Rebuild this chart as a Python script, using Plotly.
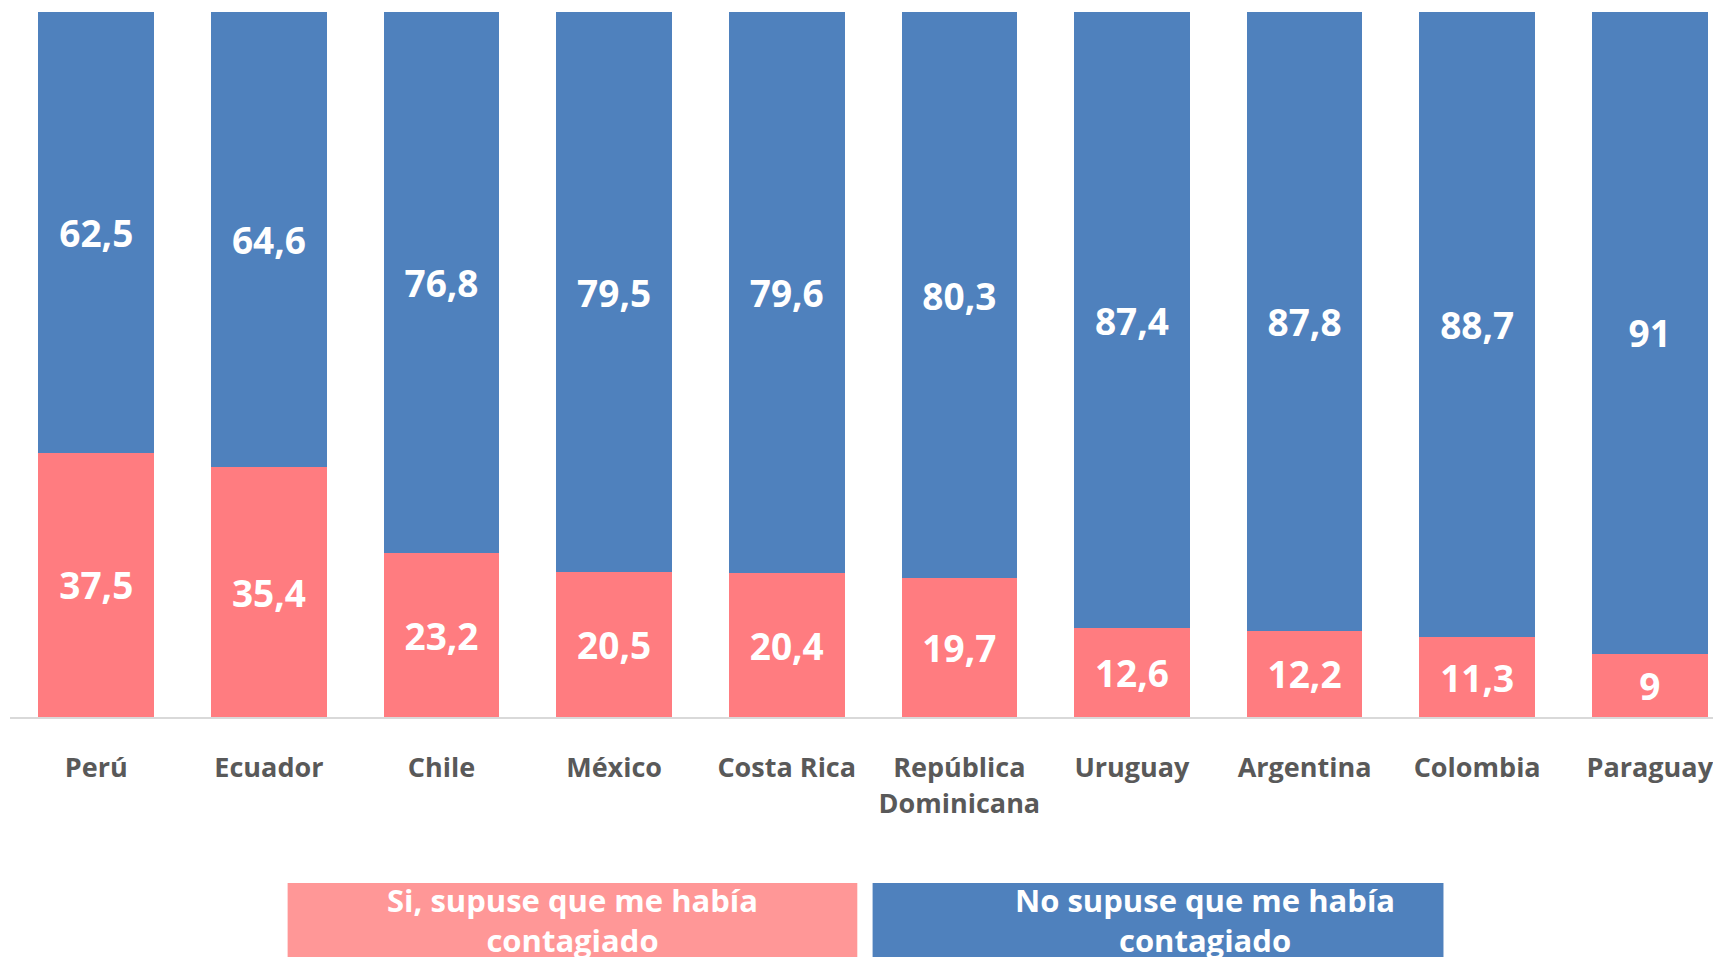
import plotly.graph_objects as go

paises = ["Perú", "Ecuador", "Chile", "México", "Costa Rica", "República<br>Dominicana",
          "Uruguay", "Argentina", "Colombia", "Paraguay"]
si_supuse = [37.5, 35.4, 23.2, 20.5, 20.4, 19.7, 12.6, 12.2, 11.3, 9]
no_supuse = [62.5, 64.6, 76.8, 79.5, 79.6, 80.3, 87.4, 87.8, 88.7, 91]
nombres = ["Si, supuse que me había<br>contagiado", "No supuse que me había<br>contagiado"]

ROJO = "#FF7C80"
ROJO_LEY = "#FF9797"
AZUL = "#4F81BD"


def etiqueta(v):
    return "{:g}".format(v).replace(".", ",")


fig = go.Figure()
fig.add_trace(go.Bar(x=paises, y=si_supuse, name=nombres[0], marker_color=ROJO,
                     text=[etiqueta(v) for v in si_supuse]))
fig.add_trace(go.Bar(x=paises, y=no_supuse, name=nombres[1], marker_color=AZUL,
                     text=[etiqueta(v) for v in no_supuse]))
fig.update_traces(textposition="inside", insidetextanchor="middle", constraintext="none",
                  textfont=dict(family="Open Sans", size=37, color="white", weight="bold"),
                  marker_line_width=0, hoverinfo="skip")

# leyenda dibujada como cajas de color con texto blanco (cortada abajo como en el original)
# (x0, x1, color, texto, centro del texto)
cajas = [(0.1615, 0.4929, ROJO_LEY, nombres[0], 0.3272),
         (0.5018, 0.8339, AZUL, nombres[1], 0.6952)]
for x0, x1, color, txt, xc in cajas:
    fig.add_shape(type="rect", xref="paper", yref="paper", x0=x0, x1=x1, y0=-0.6, y1=-0.2355,
                  fillcolor=color, line_width=0, layer="above")
    fig.add_annotation(xref="paper", yref="paper", x=xc, y=-0.288, text=txt,
                       showarrow=False, xanchor="center", yanchor="middle",
                       font=dict(family="Open Sans", size=31, color="white", weight="bold"))

# la página tiene 8px de margen en body: se descuentan arriba y a la izquierda
fig.update_layout(
    barmode="stack", bargap=0.33, width=1721, height=957,
    margin=dict(l=2, r=0, t=4, b=248),
    paper_bgcolor="white", plot_bgcolor="white",
    showlegend=False,
    font=dict(family="Open Sans"),
)
fig.update_xaxes(range=[-0.5, 9.459], showline=True, linecolor="#D9D9D9", linewidth=2,
                 ticks="", ticklabelstandoff=26,
                 tickfont=dict(family="Open Sans", size=27, color="#595959", weight="bold"))
fig.update_yaxes(range=[0, 100], visible=False, showgrid=False)

fig.write_html("out.html")
